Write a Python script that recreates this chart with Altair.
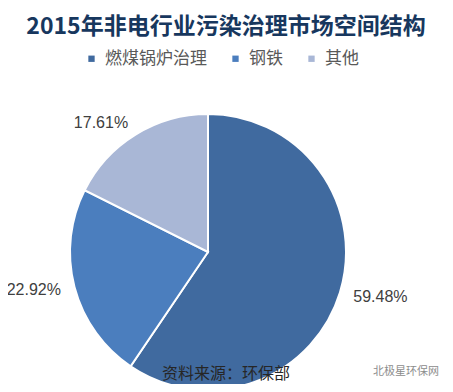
import altair as alt
import pandas as pd

categories = ["燃煤锅炉治理", "钢铁", "其他"]
values = [59.48, 22.92, 17.61]
labels = ["59.48%", "22.92%", "17.61%"]
colors = ["#406a9f", "#4b7ebe", "#a9b7d6"]

title_text = "2015年非电行业污染治理市场空间结构"
source_text = "资料来源：环保部"
mark_text = "北极星环保网"

df = pd.DataFrame({"cat": categories, "value": values, "label": labels, "idx": list(range(len(categories)))})
total = float(sum(values))

CX, CY = 200, 244

arcs = alt.Chart(df).mark_arc(outerRadius=138, stroke="white", strokeWidth=2).encode(
    theta=alt.Theta("value:Q", stack=True),
    order=alt.Order("idx:Q"),
    color=alt.Color(
        "cat:N",
        scale=alt.Scale(domain=categories, range=colors),
        legend=alt.Legend(
            title=None, orient="none", direction="horizontal",
            legendX=75, legendY=42, symbolType="square", symbolSize=40,
            symbolStrokeWidth=0, labelFontSize=17, labelColor="#595959",
            labelFont="Noto Sans CJK SC", labelOffset=5, columnPadding=20,
        ),
    ),
    x=alt.value(CX), y=alt.value(CY),
)

lab = alt.Chart(df).transform_window(
    cum="sum(value)", sort=[alt.SortField("idx")]
).transform_calculate(mid="datum.cum - datum.value / 2")

def label_layer(cond, align):
    return lab.transform_filter(cond).mark_text(
        radius=152, fontSize=16, font="Liberation Sans", color="#404040", align=align
    ).encode(
        theta=alt.Theta("mid:Q", scale=alt.Scale(domain=[0, total])),
        text="label:N", x=alt.value(CX), y=alt.value(CY),
    )

txt_r = label_layer(f"datum.mid < {total / 2}", "left")
txt_l = label_layer(f"datum.mid >= {total / 2}", "right")

tdf = pd.DataFrame({"t": [title_text]})
title = alt.Chart(tdf).mark_text(fontSize=23, fontWeight="bold", font="Noto Sans CJK SC", color="#17375e").encode(
    text="t:N", x=alt.value(218), y=alt.value(19))

sdf = pd.DataFrame({"t": [source_text]})
source = alt.Chart(sdf).mark_text(fontSize=16, font="Noto Sans CJK SC", color="#262626").encode(
    text="t:N", x=alt.value(218), y=alt.value(366))

wdf = pd.DataFrame({"t": [mark_text]})
wm = alt.Chart(wdf).mark_text(fontSize=11, font="Noto Sans CJK SC", color="#8c8c8c", align="left").encode(
    text="t:N", x=alt.value(365), y=alt.value(364))

chart = alt.layer(arcs, txt_r, txt_l, title, source, wm).properties(
    width=437, height=376, padding=0, autosize=alt.AutoSizeParams(type="none"),
).configure_view(stroke=None)

chart.save("out.html", embed_options={"renderer": "svg", "actions": False})
